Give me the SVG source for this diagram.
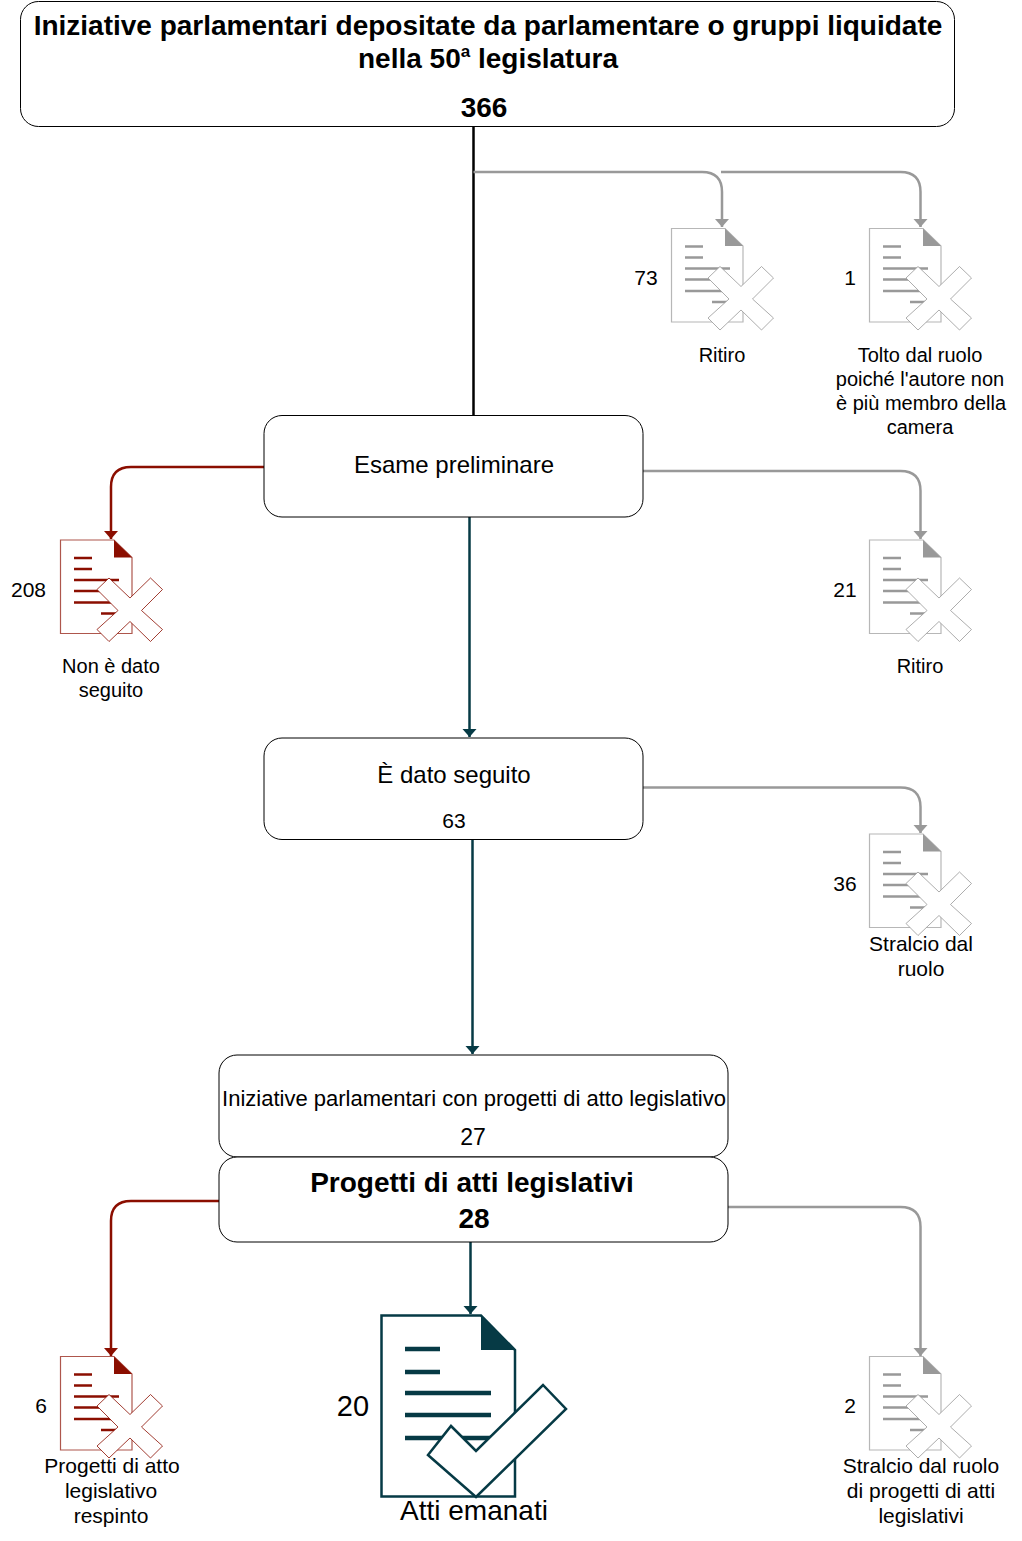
<svg xmlns="http://www.w3.org/2000/svg" xmlns:xlink="http://www.w3.org/1999/xlink" width="1022" height="1541" viewBox="0 0 1022 1541">
<style>
text{font-family:"Liberation Sans",Arial,sans-serif;fill:#000;text-anchor:middle}
.box{fill:#fff;stroke:#000;stroke-width:1}
.t20{font-size:20px}.t21{font-size:21px}.t22{font-size:22px}.t23{font-size:23px}.t24{font-size:24px}
.b28{font-size:28px;font-weight:bold}
.c{fill:none;stroke-width:2.5}
.grey{color:#999}.red{color:#8b0e00}.teal{color:#063a45}
.k{stroke:#000}.g{stroke:#999}.r{stroke:#8b0e00}.e{stroke:#063a45}
</style>
<defs>
<g id="doc">
<path d="M0.5 0.5H54L72 18V94H0.5Z" fill="#fff" stroke="currentColor" stroke-opacity=".7" stroke-width="1.2"/>
<path d="M54 0.5L72 18H54Z" fill="currentColor"/>
<path d="M14 18.500H32M14 29.500H32M14 40.500H59M14 51.500H59M14 63H59M41 74H59" fill="none" stroke="currentColor" stroke-width="2.500"/>
<path d="M37 50L49 38.500L70 58.500L90.500 38.500L102.500 50L81.500 71L102.500 90L90.500 102L70 82L49 102L37 90L58 71Z" fill="#fff" stroke="currentColor" stroke-opacity=".8" stroke-width="1"/>
</g>
<marker id="ag" markerUnits="userSpaceOnUse" markerWidth="16" markerHeight="10" refX="8" refY="9" viewBox="0 0 16 10"><path d="M1 1H15L8 9Z" fill="#999"/></marker>
<marker id="ar" markerUnits="userSpaceOnUse" markerWidth="16" markerHeight="10" refX="8" refY="9" viewBox="0 0 16 10"><path d="M1 1H15L8 9Z" fill="#8b0e00"/></marker>
<marker id="ae" markerUnits="userSpaceOnUse" markerWidth="16" markerHeight="10" refX="8" refY="9" viewBox="0 0 16 10"><path d="M1 1H15L8 9Z" fill="#063a45"/></marker>
</defs>
<g id="connectors">
<path class="c k" d="M473.500 127V415"/>
<path class="c g" d="M473.500 172H702Q722 172 722 192V227" marker-end="url(#ag)"/>
<path class="c g" d="M721 172H900.500Q920.500 172 920.500 192V227" marker-end="url(#ag)"/>
<path class="c r" d="M264 467H131Q111 467 111 487V539" marker-end="url(#ar)"/>
<path class="c g" d="M643 471H900.500Q920.500 471 920.500 491V539" marker-end="url(#ag)"/>
<path class="c e" d="M469.500 517V737" marker-end="url(#ae)"/>
<path class="c g" d="M643 787.500H900.500Q920.500 787.500 920.500 807V833" marker-end="url(#ag)"/>
<path class="c e" d="M472.500 840V1054" marker-end="url(#ae)"/>
<path class="c r" d="M219 1201H131Q111 1201 111 1221V1356" marker-end="url(#ar)"/>
<path class="c e" d="M470.500 1242V1314" marker-end="url(#ae)"/>
<path class="c g" d="M728 1207H900.500Q920.500 1207 920.500 1227V1356" marker-end="url(#ag)"/>
</g>
<g id="n-depositate">
<rect class="box" x="20.500" y="1.500" width="934" height="125" rx="18"/>
<text class="b28" x="488" y="35">Iniziative parlamentari depositate da parlamentare o gruppi liquidate</text>
<text class="b28" x="488" y="68">nella 50<tspan font-size="17" dy="-11">a</tspan><tspan dy="11"> legislatura</tspan></text>
<text class="b28" x="484" y="117">366</text>
</g>
<g id="n-ritiro1"><use xlink:href="#doc" href="#doc" class="grey" x="671" y="228"/><text class="t21" x="646" y="285">73</text><text class="t20" x="722" y="362">Ritiro</text></g>
<g id="n-tolto"><use xlink:href="#doc" href="#doc" class="grey" x="869" y="228"/><text class="t21" x="850" y="285">1</text>
<text class="t20" x="920" y="362">Tolto dal ruolo</text><text class="t20" x="920" y="386">poiché l'autore non</text><text class="t20" x="921" y="410">è più membro della</text><text class="t20" x="920" y="434">camera</text></g>
<g id="n-esame"><rect class="box" x="264" y="415.500" width="379" height="101.500" rx="18"/><text class="t24" x="454" y="473">Esame preliminare</text></g>
<g id="n-nondato"><use xlink:href="#doc" href="#doc" class="red" x="60" y="539.500"/><text class="t21" x="28.500" y="597">208</text><text class="t20" x="111" y="673">Non è dato</text><text class="t20" x="111" y="697">seguito</text></g>
<g id="n-ritiro2"><use xlink:href="#doc" href="#doc" class="grey" x="869" y="539.500"/><text class="t21" x="845" y="597">21</text><text class="t20" x="920" y="673">Ritiro</text></g>
<g id="n-dato"><rect class="box" x="264" y="738" width="379" height="101.500" rx="18"/><text class="t24" x="454" y="783">È dato seguito</text><text class="t21" x="454" y="828">63</text></g>
<g id="n-stralcio"><use xlink:href="#doc" href="#doc" class="grey" x="869" y="833.500"/><text class="t21" x="845" y="891">36</text><text class="t21" x="921" y="951">Stralcio dal</text><text class="t21" x="921" y="976">ruolo</text></g>
<g id="n-iniziative"><rect class="box" x="219" y="1055" width="509" height="102" rx="18"/><text class="t22" x="474" y="1106">Iniziative parlamentari con progetti di atto legislativo</text><text class="t23" x="473" y="1145">27</text></g>
<g id="n-progetti"><rect class="box" x="219" y="1157" width="509" height="85" rx="18"/><text class="b28" x="472" y="1192">Progetti di atti legislativi</text><text class="b28" x="474" y="1228">28</text></g>
<g id="n-respinto"><use xlink:href="#doc" href="#doc" class="red" x="60" y="1356"/><text class="t21" x="41" y="1413">6</text><text class="t21" x="112" y="1473">Progetti di atto</text><text class="t21" x="111" y="1498">legislativo</text><text class="t21" x="111" y="1523">respinto</text></g>
<g id="n-emanati">
<path d="M381.500 1315.500H481L515 1350V1496.500H381.500Z" fill="#fff" stroke="#063a45" stroke-width="2.500"/>
<path d="M481 1315.500L515 1350H481Z" fill="#063a45"/>
<path d="M405 1349H440M405 1372H440M405 1393H491M405 1415H491M405 1438H491" fill="none" stroke="#063a45" stroke-width="4.500"/>
<path d="M428 1455L451 1426L476 1451L543 1385L566 1409L476 1497Z" fill="#fff" stroke="#063a45" stroke-width="2.500"/>
<text x="353" y="1416" font-size="29">20</text><text x="474" y="1520" font-size="28">Atti emanati</text>
</g>
<g id="n-stralcio2"><use xlink:href="#doc" href="#doc" class="grey" x="869" y="1356"/><text class="t21" x="850" y="1413">2</text><text class="t21" x="921" y="1473">Stralcio dal ruolo</text><text class="t21" x="921" y="1498">di progetti di atti</text><text class="t21" x="921" y="1523">legislativi</text></g>
</svg>
